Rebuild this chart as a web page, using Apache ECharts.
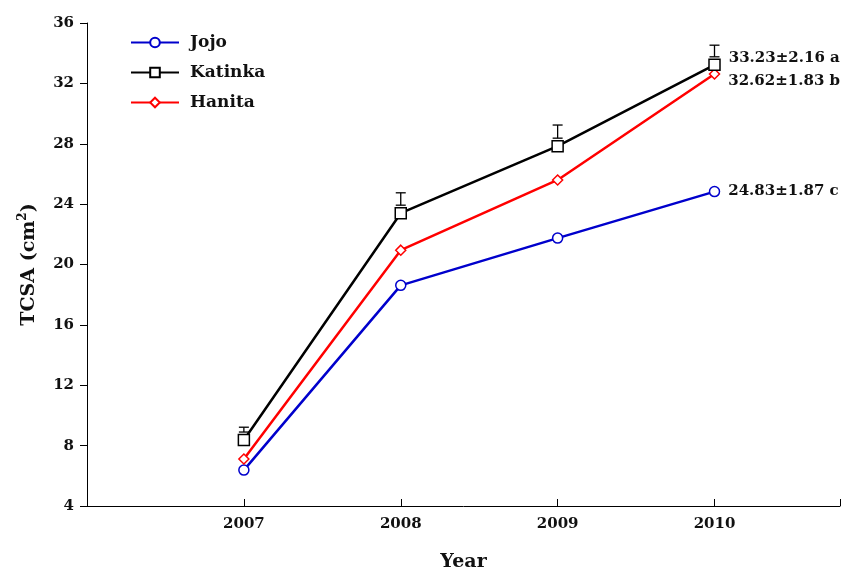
<!DOCTYPE html>
<html><head><meta charset="utf-8">
<script src="https://cdn.jsdelivr.net/npm/echarts@6/dist/echarts.min.js"></script>
<style>html,body{margin:0;padding:0;background:#fff}#c{width:842px;height:570px}</style>
</head><body><div id="c"></div>
<script>
const years = [2007, 2008, 2009, 2010];
const jojo = [6.38, 18.62, 21.75, 24.83];
const katinka = [8.37, 23.4, 27.84, 33.23];
const hanita = [7.11, 20.95, 25.6, 32.62];
const katinkaErr = [0.85, 1.35, 1.4, 1.3];
const annotations = ['24.83±1.87 c', '33.23±2.16 a', '32.62±1.83 b'];
const yTicks = [4, 8, 12, 16, 20, 24, 28, 32, 36];

const font = 'DejaVu Serif';
const chart = echarts.init(document.getElementById('c'));
function lastLabel(text, offset){
  return {show:true, position:'right', distance:8, offset:offset, formatter:text,
    color:'#111', fontFamily:font, fontWeight:'bold', fontSize:15};
}
function seriesData(arr, label){
  return arr.map((v,i)=>{
    const d = {value:[years[i], v]};
    if (i === arr.length-1) d.label = label;
    return d;
  });
}
chart.setOption({
  animation:false,
  grid:{left:87, right:2, top:23, bottom:64, containLabel:false, outerBoundsMode:'none'},
  legend:{
    left:125, top:29, orient:'vertical', itemGap:13, itemWidth:48, itemHeight:12,
    textStyle:{fontFamily:font, fontWeight:'bold', fontSize:17, color:'#111', padding:[0,0,0,6]},
    data:['Jojo','Katinka','Hanita']
  },
  xAxis:{
    type:'value', min:2006, max:2010.8, interval:1,
    name:'Year', nameLocation:'middle', nameGap:47,
    nameTextStyle:{fontFamily:font, fontWeight:'bold', fontSize:19, color:'#111'},
    axisLine:{lineStyle:{color:'#000', width:1}},
    axisTick:{inside:true, length:7, lineStyle:{color:'#000'}},
    axisLabel:{fontFamily:font, fontWeight:'bold', fontSize:15, color:'#111', margin:11,
      formatter:v => years.indexOf(v) >= 0 ? String(v) : ''},
    splitLine:{show:false}
  },
  yAxis:{
    type:'value', min:yTicks[0], max:yTicks[yTicks.length-1], interval:4,
    name:'{a|TCSA (cm}{s|2}{a|)}', nameLocation:'middle', nameGap:46, nameRotate:90,
    nameTextStyle:{rich:{
      a:{fontFamily:font, fontWeight:'bold', fontSize:19, color:'#111'},
      s:{fontFamily:font, fontWeight:'bold', fontSize:12, color:'#111', verticalAlign:'top', padding:[0,0,12,0]}
    }},
    axisLine:{show:true, lineStyle:{color:'#000', width:1}},
    axisTick:{show:true, inside:false, length:7, lineStyle:{color:'#000'}},
    axisLabel:{fontFamily:font, fontWeight:'bold', fontSize:15, color:'#111', margin:13},
    splitLine:{show:false}
  },
  series:[
    {name:'Jojo', type:'line', data:seriesData(jojo, lastLabel(annotations[0],[0,0])),
      symbol:'circle', symbolSize:10, showAllSymbol:true,
      lineStyle:{color:'#0000cc', width:2.5}, itemStyle:{color:'#fff', borderColor:'#0000cc', borderWidth:1.5}, z:3},
    {name:'Katinka', type:'line', data:seriesData(katinka, lastLabel(annotations[1],[0,-7])),
      symbol:'rect', symbolSize:11,
      lineStyle:{color:'#000', width:2.5}, itemStyle:{color:'#fff', borderColor:'#000', borderWidth:1.5}, z:4},
    {name:'Hanita', type:'line', data:seriesData(hanita, lastLabel(annotations[2],[0,7])),
      symbol:'diamond', symbolSize:10,
      lineStyle:{color:'#ff0000', width:2.5}, itemStyle:{color:'#fff', borderColor:'#ff0000', borderWidth:1.5}, z:3},
    {name:'err', type:'custom', z:5, silent:true,
      data: years.map((y,i)=>[y, katinka[i], katinka[i]+katinkaErr[i]]),
      renderItem:function(params, api){
        const p = api.coord([api.value(0), api.value(1)]);
        const t = api.coord([api.value(0), api.value(2)]);
        const x = p[0], yb = p[1]-8, yt = t[1], hw = 5;
        const st = {stroke:'#000', lineWidth:1.3};
        return {type:'group', children:[
          {type:'line', shape:{x1:x, y1:yb, x2:x, y2:yt}, style:st},
          {type:'line', shape:{x1:x-hw, y1:yt, x2:x+hw, y2:yt}, style:st},
          {type:'line', shape:{x1:x-hw, y1:yb, x2:x+hw, y2:yb}, style:st}
        ]};
      }}
  ]
});
</script></body></html>
